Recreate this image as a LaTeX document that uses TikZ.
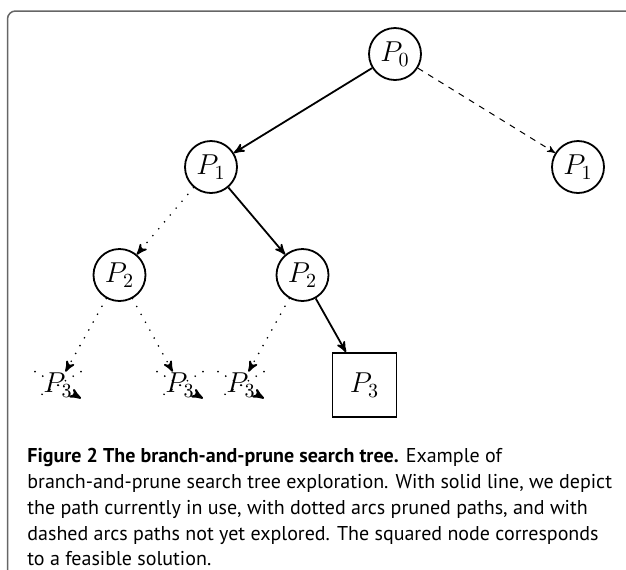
\documentclass[tikz,border=0pt]{standalone}
\usepackage{fontspec}
\setmainfont{PT Sans}
\usetikzlibrary{arrows}
\tikzset{
  state/.style={circle, draw, line width=0.9pt, minimum size=26pt, inner sep=1pt, font=\fontsize{14.4}{17}\selectfont},
  goal/.style={rectangle, draw, line width=0.9pt, minimum size=32pt, font=\fontsize{14.4}{17}\selectfont},
  pruned/.style={inner xsep=4pt, inner ysep=0.5pt, font=\fontsize{14.4}{17}\selectfont},
  used/.style={-stealth', line width=0.9pt},
  cut/.style={-stealth', line width=0.9pt, line cap=round, dash pattern=on 0pt off 4.5pt},
  open/.style={-stealth', line width=0.5pt, dashed},
}
\begin{document}
\begin{tikzpicture}[x=0.5pt, y=-0.5pt]
\useasboundingbox (0,0) rectangle (626,569);
\clip (0,0) rectangle (626,569);
% frame
\draw[gray!80!black, line width=0.75pt, rounded corners=4pt] (7.5,600) |- (650,11);

% tree
\node[state] (p0) at (395,54) {$P_0$};
\node[state] (p1a) at (211,167) {$P_1$};
\node[state] (p1b) at (578,167) {$P_1$};
\node[state] (p2a) at (119.5,275) {$P_2$};
\node[state] (p2b) at (302.5,275) {$P_2$};
\node[pruned] (x1) at (58,385) {$P_3$};
\node[pruned] (x2) at (180,385) {$P_3$};
\node[pruned] (x3) at (241,385) {$P_3$};
\node[goal] (sol) at (364.5,385) {$P_3$};

\draw[used] (p0) -- (p1a);
\draw[open] (p0) -- (p1b);
\draw[cut] (p1a) -- (p2a);
\draw[used] (p1a) -- (p2b);
\draw[cut] (p2a) -- (x1);
\draw[cut] (p2a) -- (x2);
\draw[cut] (p2b) -- (x3);
\draw[used] (p2b) -- (sol);

% crossed out nodes
\foreach \x in {x1,x2,x3}{
  \draw[cut, -] (\x.north east) -- (\x.south west);
  \draw[cut, line width=1pt] (\x.north west) -- (\x.south east);
}

% caption
\node[anchor=north west, inner sep=0pt, align=left, font=\fontsize{10}{12.9}\selectfont] (caption) at (27,448)
  {\textbf{Figure 2 The branch-and-prune search tree.} Example of\\
   branch-and-prune search tree exploration. With solid line, we depict\\
   the path currently in use, with dotted arcs pruned paths, and with\\
   dashed arcs paths not yet explored. The squared node corresponds\\
   to a feasible solution.};
\end{tikzpicture}
\end{document}
